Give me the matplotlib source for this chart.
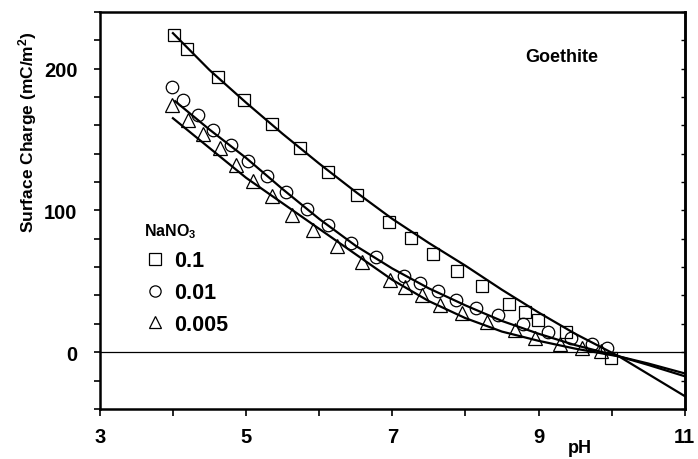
import matplotlib
matplotlib.use('Agg')
import matplotlib.pyplot as plt
import numpy as np

plt.rcParams['font.family'] = ['Liberation Sans', 'DejaVu Sans']
plt.rcParams['font.weight'] = 'bold'
plt.rcParams['mathtext.default'] = 'regular'

# measured points, NaNO3 0.1
ph_01 = [4.02, 4.19, 4.62, 4.97, 5.35, 5.74, 6.12, 6.52, 6.95, 7.25, 7.56, 7.89,
         8.23, 8.60, 8.82, 8.99, 9.37, 9.99]
q_01 = [224, 214, 194, 178, 161, 144, 127, 111, 92, 80.5, 69, 57,
        47, 34, 28.5, 23, 14, -4]

# NaNO3 0.01
ph_001 = [3.99, 4.14, 4.34, 4.55, 4.79, 5.03, 5.28, 5.54, 5.83, 6.12, 6.43, 6.78,
          7.16, 7.38, 7.62, 7.87, 8.15, 8.45, 8.79, 9.13, 9.45, 9.73, 9.93]
q_001 = [187, 178, 167, 157, 146, 135, 124, 113, 101, 89.5, 77, 67,
         54, 49, 43, 37, 31, 26, 20, 14, 10, 6, 3]

# NaNO3 0.005
ph_0005 = [3.99, 4.21, 4.41, 4.64, 4.86, 5.10, 5.35, 5.63, 5.92, 6.24, 6.58, 6.97,
           7.17, 7.41, 7.65, 7.95, 8.29, 8.68, 8.95, 9.30, 9.60, 9.85]
q_0005 = [174, 163.5, 154, 143.7, 132, 121, 110, 96.6, 86.4, 74.6, 63.6, 51,
          46, 40.5, 33.5, 27.5, 21.6, 15.7, 10, 6, 3, 1]

# model curves
fit_ph_01 = [4.0, 4.5, 5.0, 5.5, 6.0, 6.5, 7.0, 7.5, 8.0, 8.5, 9.0, 9.5, 10.1, 11.0]
fit_q_01 = [225, 199, 176, 154, 133, 113, 94, 77, 61, 44, 28, 13, -3, -31]
fit_ph_001 = [4.03, 4.5, 5.0, 5.5, 6.0, 6.5, 7.0, 7.5, 8.0, 8.5, 9.0, 9.5, 10.1, 10.5, 11.0]
fit_q_001 = [177, 157, 137, 115, 94, 75, 59, 45, 33, 22, 13, 5, -3, -8, -15]
fit_ph_0005 = [4.0, 4.5, 5.0, 5.5, 6.0, 6.5, 7.0, 7.5, 8.0, 8.5, 9.0, 9.5, 10.1, 10.5, 11.0]
fit_q_0005 = [165, 144, 123, 105, 87, 69, 51, 36, 24, 14.5, 8, 2.5, -3, -9, -17]

fig = plt.figure(figsize=(6.98, 4.6), dpi=100)
ax = fig.add_axes([0.143, 0.109, 0.838, 0.863])

ax.axhline(0, color='black', lw=0.9)

ax.plot(fit_ph_01, fit_q_01, color='black', lw=1.6)
ax.plot(fit_ph_001, fit_q_001, color='black', lw=1.6)
ax.plot(fit_ph_0005, fit_q_0005, color='black', lw=1.6)

ms = 9
ax.plot(ph_01, q_01, ls='none', marker='s', ms=ms, mfc='none', mec='black', mew=0.9, label='0.1')
ax.plot(ph_001, q_001, ls='none', marker='o', ms=ms, mfc='none', mec='black', mew=0.9, label='0.01')
ax.plot(ph_0005, q_0005, ls='none', marker='^', ms=ms + 1, mfc='none', mec='black', mew=0.9, label='0.005')

ax.set_xlim(3, 11)
ax.set_ylim(-40, 240)
ax.set_xticks([3, 5, 7, 9, 11])
ax.set_xticks(np.arange(3, 12, 1), minor=True)
ax.set_yticks([0, 100, 200])
ax.set_yticks(np.arange(-40, 241, 20), minor=True)

ax.tick_params(axis='both', which='both', direction='out', width=1.2, labelsize=14.5)
ax.tick_params(axis='x', which='both', length=5, pad=8)
ax.tick_params(axis='y', which='both', length=4, pad=12)
for lab in ax.get_xticklabels() + ax.get_yticklabels():
    lab.set_fontweight('bold')

# small inward ticks on the right frame
sec = ax.secondary_yaxis('right')
sec.set_yticks(np.arange(-40, 241, 20))
sec.tick_params(direction='in', length=3, width=1.0, labelright=False)
sec.spines['right'].set_linewidth(1.8)

for s in ax.spines.values():
    s.set_linewidth(1.8)

ax.set_ylabel('Surface Charge (mC/m$^2$)', fontsize=12.5, fontweight='bold')
ax.yaxis.set_label_coords(-0.104, 0.70)
ax.set_xlabel('pH', fontsize=13, fontweight='bold')
ax.xaxis.set_label_coords(0.82, -0.076)

ax.text(0.79, 0.887, 'Goethite', transform=ax.transAxes, ha='center', va='center',
        fontsize=13, fontweight='bold')

leg = ax.legend(title='NaNO$_3$', loc='upper left', bbox_to_anchor=(0.06, 0.495),
                frameon=False, fontsize=15.5, title_fontsize=11.5, handletextpad=0.3,
                labelspacing=0.5, handlelength=1.1, borderaxespad=0, markerscale=0.9)
leg._legend_box.align = 'left'
for t in leg.get_texts():
    t.set_fontweight('bold')
leg.get_title().set_fontweight('bold')

fig.savefig('out.png', dpi=100)
